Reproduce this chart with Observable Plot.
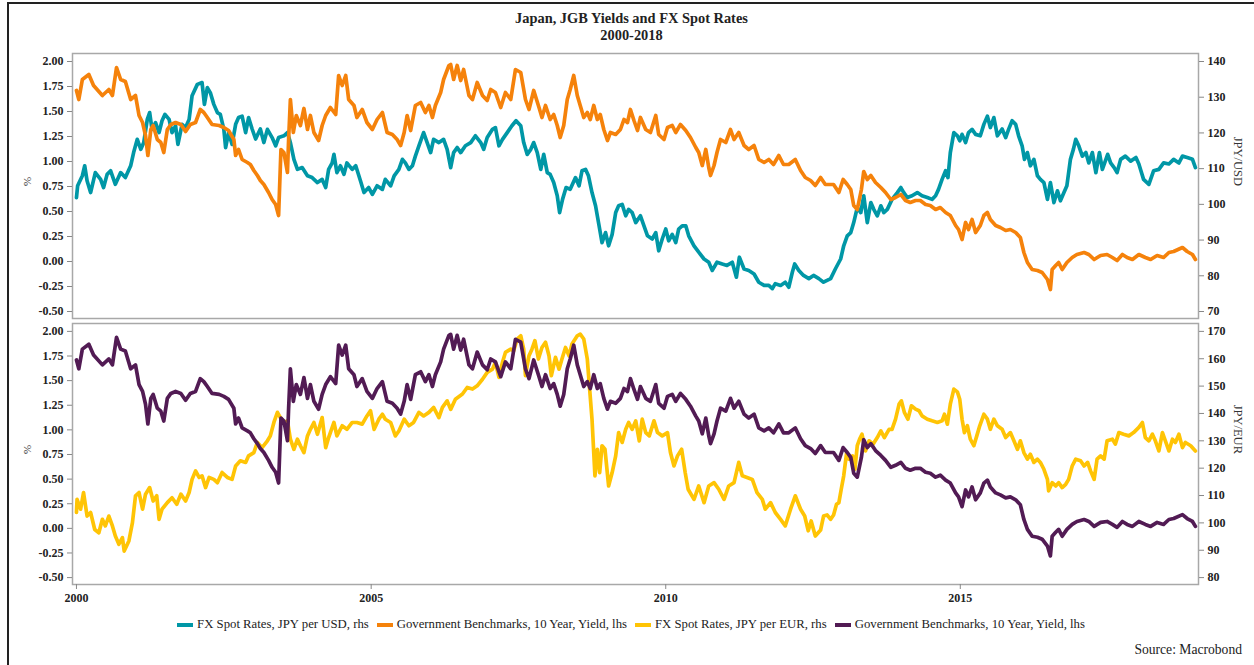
<!DOCTYPE html>
<html>
<head>
<meta charset="utf-8">
<script src="https://cdn.jsdelivr.net/npm/d3@7"></script>
<script src="https://cdn.jsdelivr.net/npm/@observablehq/plot@0.6"></script>
<style>
  html, body { margin: 0; padding: 0; background: #fff; overflow: hidden; }
  #wrap { position: relative; width: 1254px; height: 665px; font-family: "Liberation Serif", "DejaVu Serif", serif; color: #222; }
  #border { position: absolute; left: 7px; top: 2px; width: 1270px; height: 690px; border: 2px solid #222; box-sizing: border-box; }
  .title { position: absolute; left: 0; width: 1263px; text-align: center; font-weight: bold; font-size: 14.4px; line-height: 17px; }
  .panel { position: absolute; left: 0; }
  #legend { position: absolute; left: 4px; width: 1254px; top: 617px; display: flex; justify-content: center; align-items: center; font-size: 12.75px; white-space: nowrap; }
  #legend .item { display: flex; align-items: center; margin: 0 4px; }
  #legend .sw { width: 16px; height: 4px; margin-right: 4px; }
  #source { position: absolute; right: 12px; top: 642px; font-size: 13.6px; }
</style>
</head>
<body>
<div id="wrap">
  <div id="border"></div>
  <div class="title" style="top:10px">Japan, JGB Yields and FX Spot Rates</div>
  <div class="title" style="top:27px">2000-2018</div>
  <div class="panel" id="top" style="top:0px"></div>
  <div class="panel" id="bottom" style="top:320px"></div>
  <div id="legend"></div>
  <div id="source">Source: Macrobond</div>
</div>
<script>
// ---------- data (decimal year, value) ----------
const jgbYield = [[2000.00,1.71],[2000.04,1.62],[2000.10,1.82],[2000.21,1.87],[2000.29,1.76],[2000.44,1.66],[2000.55,1.72],[2000.61,1.66],[2000.68,1.94],[2000.75,1.82],[2000.83,1.80],[2000.92,1.62],[2001.00,1.66],[2001.06,1.46],[2001.12,1.39],[2001.17,1.26],[2001.21,1.06],[2001.26,1.32],[2001.30,1.36],[2001.37,1.22],[2001.43,1.19],[2001.48,1.09],[2001.54,1.32],[2001.60,1.37],[2001.68,1.39],[2001.77,1.37],[2001.85,1.30],[2001.93,1.37],[2002.02,1.39],[2002.10,1.52],[2002.16,1.49],[2002.22,1.44],[2002.30,1.37],[2002.42,1.36],[2002.50,1.34],[2002.58,1.31],[2002.67,1.22],[2002.70,1.06],[2002.75,1.12],[2002.81,1.02],[2002.90,0.99],[2002.95,0.97],[2003.01,0.91],[2003.07,0.86],[2003.12,0.81],[2003.18,0.77],[2003.26,0.69],[2003.32,0.62],[2003.38,0.57],[2003.43,0.46],[2003.47,1.12],[2003.52,1.09],[2003.58,0.89],[2003.60,1.22],[2003.63,1.62],[2003.68,1.29],[2003.73,1.46],[2003.80,1.36],[2003.86,1.53],[2003.92,1.32],[2003.97,1.46],[2004.03,1.29],[2004.11,1.21],[2004.17,1.36],[2004.23,1.46],[2004.31,1.54],[2004.40,1.47],[2004.45,1.86],[2004.51,1.76],[2004.57,1.86],[2004.62,1.62],[2004.71,1.56],[2004.76,1.44],[2004.85,1.52],[2004.93,1.39],[2005.02,1.32],[2005.10,1.42],[2005.19,1.49],[2005.27,1.29],[2005.36,1.27],[2005.44,1.22],[2005.50,1.16],[2005.56,1.29],[2005.61,1.46],[2005.67,1.31],[2005.75,1.56],[2005.84,1.59],[2005.92,1.49],[2005.98,1.56],[2006.04,1.44],[2006.09,1.56],[2006.18,1.69],[2006.23,1.82],[2006.32,1.96],[2006.35,1.97],[2006.40,1.82],[2006.46,1.96],[2006.52,1.81],[2006.57,1.92],[2006.66,1.66],[2006.72,1.62],[2006.80,1.79],[2006.89,1.66],[2006.97,1.61],[2007.03,1.72],[2007.11,1.69],[2007.20,1.54],[2007.28,1.69],[2007.37,1.62],[2007.45,1.92],[2007.54,1.89],[2007.62,1.62],[2007.68,1.52],[2007.76,1.71],[2007.85,1.54],[2007.90,1.44],[2007.96,1.56],[2008.04,1.42],[2008.10,1.47],[2008.16,1.36],[2008.21,1.24],[2008.27,1.36],[2008.33,1.62],[2008.38,1.72],[2008.44,1.86],[2008.50,1.66],[2008.55,1.56],[2008.61,1.44],[2008.67,1.49],[2008.72,1.42],[2008.78,1.56],[2008.84,1.42],[2008.89,1.47],[2008.95,1.32],[2009.01,1.21],[2009.06,1.29],[2009.15,1.27],[2009.23,1.32],[2009.29,1.42],[2009.35,1.39],[2009.40,1.52],[2009.46,1.41],[2009.52,1.31],[2009.57,1.44],[2009.66,1.32],[2009.74,1.29],[2009.83,1.46],[2009.88,1.27],[2009.97,1.22],[2010.03,1.34],[2010.11,1.36],[2010.17,1.29],[2010.25,1.37],[2010.34,1.31],[2010.42,1.24],[2010.51,1.14],[2010.56,1.09],[2010.62,0.96],[2010.68,1.12],[2010.73,0.94],[2010.76,0.86],[2010.82,0.96],[2010.87,1.09],[2010.93,1.22],[2011.02,1.19],[2011.10,1.32],[2011.16,1.22],[2011.24,1.29],[2011.33,1.16],[2011.41,1.12],[2011.50,1.16],[2011.58,1.02],[2011.67,0.99],[2011.75,1.02],[2011.83,0.97],[2011.92,1.06],[2012.00,0.97],[2012.09,0.97],[2012.20,1.02],[2012.29,0.91],[2012.37,0.84],[2012.46,0.81],[2012.54,0.76],[2012.63,0.84],[2012.71,0.77],[2012.85,0.77],[2012.94,0.69],[2013.01,0.82],[2013.08,0.77],[2013.14,0.72],[2013.19,0.56],[2013.25,0.52],[2013.32,0.72],[2013.36,0.90],[2013.42,0.82],[2013.48,0.86],[2013.56,0.79],[2013.65,0.74],[2013.73,0.69],[2013.82,0.62],[2013.90,0.64],[2013.99,0.67],[2014.07,0.61],[2014.15,0.59],[2014.24,0.61],[2014.32,0.61],[2014.41,0.57],[2014.49,0.56],[2014.58,0.52],[2014.66,0.54],[2014.75,0.49],[2014.83,0.46],[2014.92,0.36],[2014.97,0.32],[2015.03,0.22],[2015.09,0.39],[2015.14,0.32],[2015.20,0.42],[2015.26,0.29],[2015.34,0.36],[2015.40,0.46],[2015.46,0.49],[2015.51,0.42],[2015.60,0.36],[2015.68,0.34],[2015.77,0.31],[2015.85,0.32],[2015.94,0.29],[2016.02,0.24],[2016.08,0.09],[2016.14,-0.01],[2016.22,-0.08],[2016.31,-0.09],[2016.39,-0.11],[2016.48,-0.18],[2016.53,-0.28],[2016.56,-0.08],[2016.62,-0.04],[2016.67,-0.01],[2016.73,-0.08],[2016.81,-0.01],[2016.90,0.04],[2016.98,0.07],[2017.10,0.09],[2017.18,0.07],[2017.27,0.02],[2017.38,0.06],[2017.49,0.07],[2017.58,0.04],[2017.66,0.01],[2017.75,0.07],[2017.83,0.04],[2017.92,0.02],[2018.03,0.07],[2018.14,0.04],[2018.23,0.02],[2018.34,0.06],[2018.45,0.04],[2018.54,0.09],[2018.62,0.10],[2018.77,0.14],[2018.85,0.10],[2018.94,0.07],[2018.99,0.02]];

const jpyUsd = [[2000.00,101.9],[2000.02,105.2],[2000.10,108.0],[2000.14,110.8],[2000.18,106.6],[2000.24,103.3],[2000.32,108.9],[2000.41,107.0],[2000.46,104.7],[2000.52,108.4],[2000.58,109.4],[2000.66,105.6],[2000.75,108.9],[2000.83,107.5],[2000.92,110.8],[2000.97,114.5],[2001.03,118.2],[2001.09,115.4],[2001.14,117.3],[2001.20,123.8],[2001.24,125.7],[2001.28,121.0],[2001.34,122.9],[2001.40,120.1],[2001.45,123.4],[2001.50,125.2],[2001.57,123.8],[2001.62,120.1],[2001.68,122.0],[2001.72,116.8],[2001.79,122.4],[2001.85,121.5],[2001.91,123.8],[2001.96,130.4],[2002.05,133.6],[2002.13,134.1],[2002.17,128.0],[2002.22,132.7],[2002.27,131.3],[2002.33,128.0],[2002.39,125.7],[2002.44,125.2],[2002.50,121.0],[2002.53,115.9],[2002.58,120.1],[2002.64,116.8],[2002.70,122.4],[2002.75,124.3],[2002.81,124.7],[2002.87,120.1],[2002.92,124.3],[2002.98,121.1],[2003.04,118.3],[2003.12,121.1],[2003.18,117.3],[2003.24,121.0],[2003.32,118.7],[2003.38,116.4],[2003.43,118.7],[2003.52,119.2],[2003.58,120.1],[2003.63,117.3],[2003.69,112.6],[2003.75,109.8],[2003.83,110.3],[2003.92,108.0],[2004.00,107.5],[2004.09,106.1],[2004.17,107.0],[2004.23,104.7],[2004.28,109.8],[2004.34,111.6],[2004.37,114.0],[2004.42,108.9],[2004.48,110.8],[2004.54,108.4],[2004.59,111.6],[2004.68,109.8],[2004.74,110.8],[2004.82,106.6],[2004.88,103.3],[2004.96,104.7],[2005.02,102.8],[2005.10,105.2],[2005.19,104.2],[2005.24,107.0],[2005.33,105.2],[2005.39,108.0],[2005.47,109.8],[2005.53,112.6],[2005.58,111.6],[2005.64,109.8],[2005.70,110.8],[2005.75,113.5],[2005.81,116.4],[2005.89,120.1],[2005.95,117.3],[2006.01,114.5],[2006.06,118.2],[2006.15,117.3],[2006.23,118.2],[2006.29,115.4],[2006.35,110.3],[2006.40,114.5],[2006.46,115.9],[2006.52,114.5],[2006.60,116.4],[2006.69,117.3],[2006.77,119.2],[2006.86,117.3],[2006.91,115.4],[2006.97,118.7],[2007.06,121.0],[2007.11,121.5],[2007.17,116.4],[2007.23,118.2],[2007.31,120.1],[2007.39,122.0],[2007.46,123.4],[2007.54,122.0],[2007.59,117.3],[2007.65,114.0],[2007.71,115.4],[2007.76,117.3],[2007.82,114.5],[2007.88,109.8],[2007.93,114.0],[2007.99,108.9],[2008.04,108.4],[2008.10,106.1],[2008.16,102.4],[2008.20,97.7],[2008.25,101.4],[2008.31,104.7],[2008.38,104.2],[2008.47,107.5],[2008.53,105.2],[2008.58,109.4],[2008.64,109.8],[2008.69,108.0],[2008.75,103.3],[2008.81,99.6],[2008.87,94.0],[2008.92,89.3],[2008.98,92.1],[2009.03,88.4],[2009.09,91.6],[2009.15,97.7],[2009.20,99.6],[2009.26,100.0],[2009.32,96.8],[2009.37,98.6],[2009.43,97.7],[2009.49,94.9],[2009.57,96.8],[2009.63,94.0],[2009.69,91.2],[2009.77,90.3],[2009.83,92.1],[2009.88,87.0],[2009.94,90.3],[2010.00,93.1],[2010.05,89.8],[2010.11,91.6],[2010.17,89.3],[2010.22,93.1],[2010.28,94.0],[2010.34,94.0],[2010.39,91.2],[2010.48,88.4],[2010.56,86.6],[2010.65,84.7],[2010.73,83.8],[2010.79,81.5],[2010.87,83.8],[2010.96,83.3],[2011.04,82.9],[2011.13,83.8],[2011.20,79.6],[2011.25,85.2],[2011.33,81.9],[2011.41,81.5],[2011.50,80.5],[2011.58,78.2],[2011.67,77.3],[2011.75,77.3],[2011.81,76.4],[2011.86,77.8],[2011.95,77.3],[2012.03,78.2],[2012.09,76.8],[2012.15,81.0],[2012.19,83.3],[2012.26,81.5],[2012.34,80.1],[2012.43,79.2],[2012.51,80.1],[2012.60,79.2],[2012.68,78.2],[2012.80,79.2],[2012.88,81.9],[2012.97,84.7],[2013.02,88.4],[2013.08,91.2],[2013.14,92.1],[2013.19,94.9],[2013.25,99.1],[2013.31,97.7],[2013.36,102.4],[2013.42,94.9],[2013.48,100.5],[2013.53,98.6],[2013.59,96.8],[2013.65,99.6],[2013.70,97.7],[2013.76,98.6],[2013.84,101.4],[2013.93,103.3],[2013.99,104.7],[2014.04,103.3],[2014.10,101.9],[2014.18,102.4],[2014.27,103.3],[2014.35,102.4],[2014.44,101.9],[2014.52,101.4],[2014.58,102.4],[2014.63,104.2],[2014.69,107.0],[2014.75,109.4],[2014.79,107.5],[2014.83,114.5],[2014.89,120.1],[2014.95,119.2],[2014.99,117.8],[2015.03,119.6],[2015.09,117.3],[2015.14,120.1],[2015.20,121.0],[2015.26,119.6],[2015.34,119.2],[2015.40,122.4],[2015.46,124.7],[2015.51,121.5],[2015.57,124.3],[2015.63,119.2],[2015.71,121.1],[2015.77,118.7],[2015.82,121.0],[2015.88,123.4],[2015.94,122.4],[2015.99,119.2],[2016.05,116.4],[2016.09,112.6],[2016.14,114.5],[2016.19,110.8],[2016.25,112.6],[2016.31,108.0],[2016.36,107.0],[2016.42,106.1],[2016.48,101.4],[2016.53,106.1],[2016.59,100.5],[2016.65,103.8],[2016.70,101.0],[2016.76,103.3],[2016.81,105.2],[2016.87,112.6],[2016.92,115.4],[2016.96,118.2],[2017.01,116.4],[2017.07,113.5],[2017.13,114.5],[2017.18,111.6],[2017.24,114.5],[2017.30,108.9],[2017.36,114.5],[2017.41,109.8],[2017.50,114.0],[2017.55,111.6],[2017.61,110.3],[2017.66,108.9],[2017.72,112.6],[2017.80,113.5],[2017.89,112.1],[2017.98,113.1],[2018.03,111.3],[2018.11,107.0],[2018.20,105.6],[2018.28,109.4],[2018.37,109.8],[2018.45,111.6],[2018.54,111.3],[2018.62,112.6],[2018.71,111.6],[2018.77,113.5],[2018.85,113.1],[2018.94,112.6],[2018.99,110.3]];

const jpyEur = [[2000.00,103.8],[2000.01,108.6],[2000.07,105.0],[2000.12,111.1],[2000.18,102.5],[2000.24,103.8],[2000.31,97.6],[2000.38,96.4],[2000.44,101.3],[2000.49,98.9],[2000.55,102.5],[2000.61,98.9],[2000.66,95.2],[2000.72,92.2],[2000.78,94.6],[2000.81,89.7],[2000.89,93.4],[2000.95,100.1],[2001.00,109.9],[2001.06,111.1],[2001.12,105.0],[2001.17,110.5],[2001.24,112.9],[2001.30,108.0],[2001.36,109.9],[2001.40,101.3],[2001.45,105.0],[2001.54,107.4],[2001.62,109.2],[2001.70,106.8],[2001.77,110.5],[2001.85,108.0],[2001.91,111.1],[2001.96,115.9],[2002.02,119.0],[2002.08,116.6],[2002.13,117.2],[2002.19,112.9],[2002.25,116.6],[2002.33,115.9],[2002.39,114.7],[2002.47,118.4],[2002.56,116.6],[2002.64,115.9],[2002.70,120.8],[2002.78,122.7],[2002.87,122.1],[2002.92,124.5],[2003.01,125.7],[2003.07,129.4],[2003.15,127.5],[2003.24,130.0],[2003.29,131.8],[2003.35,136.7],[2003.41,140.4],[2003.46,138.5],[2003.52,136.7],[2003.58,137.3],[2003.63,130.6],[2003.69,126.9],[2003.75,130.6],[2003.80,128.2],[2003.86,125.7],[2003.92,131.8],[2003.97,134.2],[2004.03,136.7],[2004.09,132.4],[2004.17,138.5],[2004.23,127.5],[2004.28,131.2],[2004.37,136.7],[2004.42,131.8],[2004.51,135.5],[2004.59,134.2],[2004.68,136.7],[2004.76,136.7],[2004.85,136.1],[2004.93,139.1],[2004.99,141.0],[2005.05,134.2],[2005.13,137.9],[2005.19,139.7],[2005.24,137.9],[2005.33,136.7],[2005.41,131.8],[2005.47,133.6],[2005.56,137.9],[2005.64,135.5],[2005.72,136.7],[2005.81,140.4],[2005.89,139.1],[2005.98,140.4],[2006.06,142.2],[2006.15,138.5],[2006.21,142.2],[2006.29,144.6],[2006.35,141.5],[2006.43,145.2],[2006.55,147.1],[2006.63,149.5],[2006.72,148.9],[2006.80,150.1],[2006.89,152.5],[2006.97,155.0],[2007.06,156.2],[2007.11,158.7],[2007.17,153.2],[2007.23,158.7],[2007.28,162.3],[2007.37,163.5],[2007.42,162.9],[2007.48,167.2],[2007.54,168.4],[2007.59,163.5],[2007.62,153.8],[2007.68,161.1],[2007.73,163.5],[2007.78,166.6],[2007.84,159.9],[2007.90,164.1],[2007.96,166.0],[2008.02,161.1],[2008.06,153.8],[2008.13,160.5],[2008.19,156.2],[2008.24,159.9],[2008.30,164.1],[2008.36,161.1],[2008.41,165.4],[2008.50,168.4],[2008.55,169.0],[2008.61,167.2],[2008.67,159.9],[2008.71,148.9],[2008.75,137.9],[2008.80,117.2],[2008.84,126.9],[2008.88,118.4],[2008.92,128.2],[2008.97,126.9],[2009.03,113.5],[2009.09,118.4],[2009.15,124.5],[2009.20,133.0],[2009.26,129.4],[2009.32,134.2],[2009.37,136.7],[2009.43,134.2],[2009.49,137.3],[2009.55,130.0],[2009.60,137.9],[2009.66,133.0],[2009.72,131.8],[2009.80,137.3],[2009.86,133.0],[2009.94,131.8],[2010.03,133.0],[2010.08,125.7],[2010.14,120.8],[2010.20,124.5],[2010.27,126.9],[2010.33,118.4],[2010.38,112.3],[2010.48,108.6],[2010.56,113.5],[2010.65,107.4],[2010.73,113.5],[2010.82,114.7],[2010.90,112.3],[2010.99,108.6],[2011.07,113.5],[2011.16,114.7],[2011.24,122.1],[2011.30,117.2],[2011.38,116.6],[2011.47,115.9],[2011.55,111.1],[2011.64,108.6],[2011.69,105.0],[2011.78,107.4],[2011.86,103.8],[2011.95,101.3],[2012.03,98.9],[2012.12,105.0],[2012.20,109.9],[2012.29,105.0],[2012.36,102.5],[2012.42,97.1],[2012.47,100.7],[2012.54,95.2],[2012.63,97.4],[2012.68,102.5],[2012.74,102.9],[2012.80,101.3],[2012.85,102.9],[2012.90,106.8],[2012.94,107.4],[2012.98,112.3],[2013.02,117.2],[2013.07,125.7],[2013.11,123.3],[2013.17,124.5],[2013.21,119.6],[2013.25,128.2],[2013.29,130.6],[2013.33,132.4],[2013.39,126.3],[2013.45,130.0],[2013.52,128.8],[2013.59,131.2],[2013.65,133.6],[2013.71,131.2],[2013.79,134.2],[2013.84,134.2],[2013.90,137.9],[2013.96,143.4],[2014.00,144.6],[2014.05,140.4],[2014.11,137.9],[2014.17,142.8],[2014.24,141.6],[2014.30,141.0],[2014.35,139.1],[2014.44,137.9],[2014.52,137.3],[2014.61,136.7],[2014.69,137.3],[2014.73,139.7],[2014.78,136.1],[2014.83,143.4],[2014.89,148.9],[2014.95,147.9],[2014.99,145.2],[2015.03,137.9],[2015.07,133.0],[2015.12,135.5],[2015.17,130.6],[2015.23,128.2],[2015.28,131.8],[2015.33,135.5],[2015.40,139.7],[2015.46,137.9],[2015.51,134.2],[2015.57,137.9],[2015.63,135.5],[2015.71,134.2],[2015.77,131.2],[2015.85,133.0],[2015.91,130.0],[2015.97,126.9],[2016.02,130.0],[2016.08,125.7],[2016.14,123.3],[2016.19,125.1],[2016.25,122.1],[2016.31,123.3],[2016.36,122.1],[2016.42,119.6],[2016.48,115.9],[2016.50,111.7],[2016.56,114.7],[2016.62,113.5],[2016.67,114.7],[2016.73,112.9],[2016.79,114.1],[2016.84,115.9],[2016.90,120.8],[2016.96,123.3],[2017.04,122.7],[2017.10,120.8],[2017.16,122.1],[2017.21,119.0],[2017.27,115.9],[2017.32,123.3],[2017.38,124.5],[2017.44,123.3],[2017.49,130.0],[2017.58,130.6],[2017.63,128.8],[2017.69,133.0],[2017.77,132.4],[2017.86,131.8],[2017.94,133.0],[2018.03,134.9],[2018.09,136.7],[2018.14,131.2],[2018.20,130.0],[2018.26,132.4],[2018.31,130.0],[2018.37,126.3],[2018.43,133.0],[2018.48,130.0],[2018.54,126.3],[2018.60,130.6],[2018.65,129.4],[2018.71,132.4],[2018.77,127.5],[2018.82,129.4],[2018.91,128.2],[2018.99,126.3]];

// ---------- ticks, labels, colours ----------
const yieldTicks = [-0.5, -0.25, 0, 0.25, 0.5, 0.75, 1, 1.25, 1.5, 1.75, 2];
const usdTicks = [70, 80, 90, 100, 110, 120, 130, 140];
const eurTicks = [80, 90, 100, 110, 120, 130, 140, 150, 160, 170];
const yearTicks = [2000, 2005, 2010, 2015];
const seriesNames = ["FX Spot Rates, JPY per USD, rhs", "Government Benchmarks, 10 Year, Yield, lhs", "FX Spot Rates, JPY per EUR, rhs", "Government Benchmarks, 10 Year, Yield, lhs"];
const colors = ["#0097a6", "#f5820b", "#ffc405", "#521b54"];

// ---------- helpers ----------
const toDate = t => { const y = Math.floor(t); return new Date(Date.UTC(y,0,1) + (t - y) * 365.25 * 864e5); };
const rows = arr => arr.map(([t, v]) => ({date: toDate(t), value: v}));
const xDomain = [toDate(1999.932), toDate(2019.043)];
const yDomain = [-0.57, 2.08];
// right-axis mappings onto the left (%) scale
const usdToPct = v => 2 + (v - 140) / 28;
const eurToPct = v => 2 + (v - 170) / 36;

const font = {fontFamily: "Liberation Serif, DejaVu Serif, serif", fontSize: "12px", fontWeight: "bold", color: "#222", background: "transparent", overflow: "visible"};

function panel({height, marginTop, marginBottom, fxRows, fxMap, fxTicks, fxLabel, fxColor, yColor, showX}) {
  return Plot.plot({
    width: 1254, height, marginLeft: 72, marginRight: 56, marginTop, marginBottom,
    style: font,
    x: {type: "utc", domain: xDomain, axis: null},
    y: {domain: yDomain, axis: null},
    marks: [
      Plot.frame({stroke: "#a8a8a8", strokeWidth: 1.5}),
      Plot.axisY({anchor: "left", ticks: yieldTicks, tickFormat: d => d.toFixed(2), tickSize: 5, tickPadding: 4, stroke: "#888", fill: "#222", label: null}),
      Plot.axisY({anchor: "right", ticks: fxTicks.map(fxMap), tickFormat: (d, i) => String(fxTicks[i]), tickSize: 5, tickPadding: 4, stroke: "#888", fill: "#222", label: null}),
      showX ? Plot.axisX({anchor: "bottom", ticks: yearTicks.map(y => toDate(y)), tickFormat: d => String(d.getUTCFullYear()), tickSize: 5, tickPadding: 4, stroke: "#888", fill: "#222", label: null}) : null,
      Plot.text(["%"], {frameAnchor: "left", dx: -45, rotate: -90, fontWeight: "normal", fontSize: 11, fill: "#333"}),
      Plot.text([fxLabel], {frameAnchor: "right", dx: 39, rotate: 90, fontWeight: "normal", fontSize: 12.5, fill: "#333"}),
      Plot.line(fxRows, {x: "date", y: d => fxMap(d.value), stroke: fxColor, strokeWidth: 3.7, strokeLinejoin: "round"}),
      Plot.line(rows(jgbYield), {x: "date", y: "value", stroke: yColor, strokeWidth: 3.7, strokeLinejoin: "round"})
    ]
  });
}

document.getElementById("top").append(panel({height: 320, marginTop: 53, marginBottom: 2, fxRows: rows(jpyUsd), fxMap: usdToPct, fxTicks: usdTicks, fxLabel: "JPY/USD", fxColor: colors[0], yColor: colors[1], showX: false}));
document.getElementById("bottom").append(panel({height: 290, marginTop: 3, marginBottom: 26, fxRows: rows(jpyEur), fxMap: eurToPct, fxTicks: eurTicks, fxLabel: "JPY/EUR", fxColor: colors[2], yColor: colors[3], showX: true}));

// legend
const legend = document.getElementById("legend");
seriesNames.forEach((name, i) => {
  const item = document.createElement("div"); item.className = "item";
  const sw = document.createElement("div"); sw.className = "sw"; sw.style.background = colors[i];
  const tx = document.createElement("span"); tx.textContent = name;
  item.append(sw, tx); legend.append(item);
});
</script>
</body>
</html>
